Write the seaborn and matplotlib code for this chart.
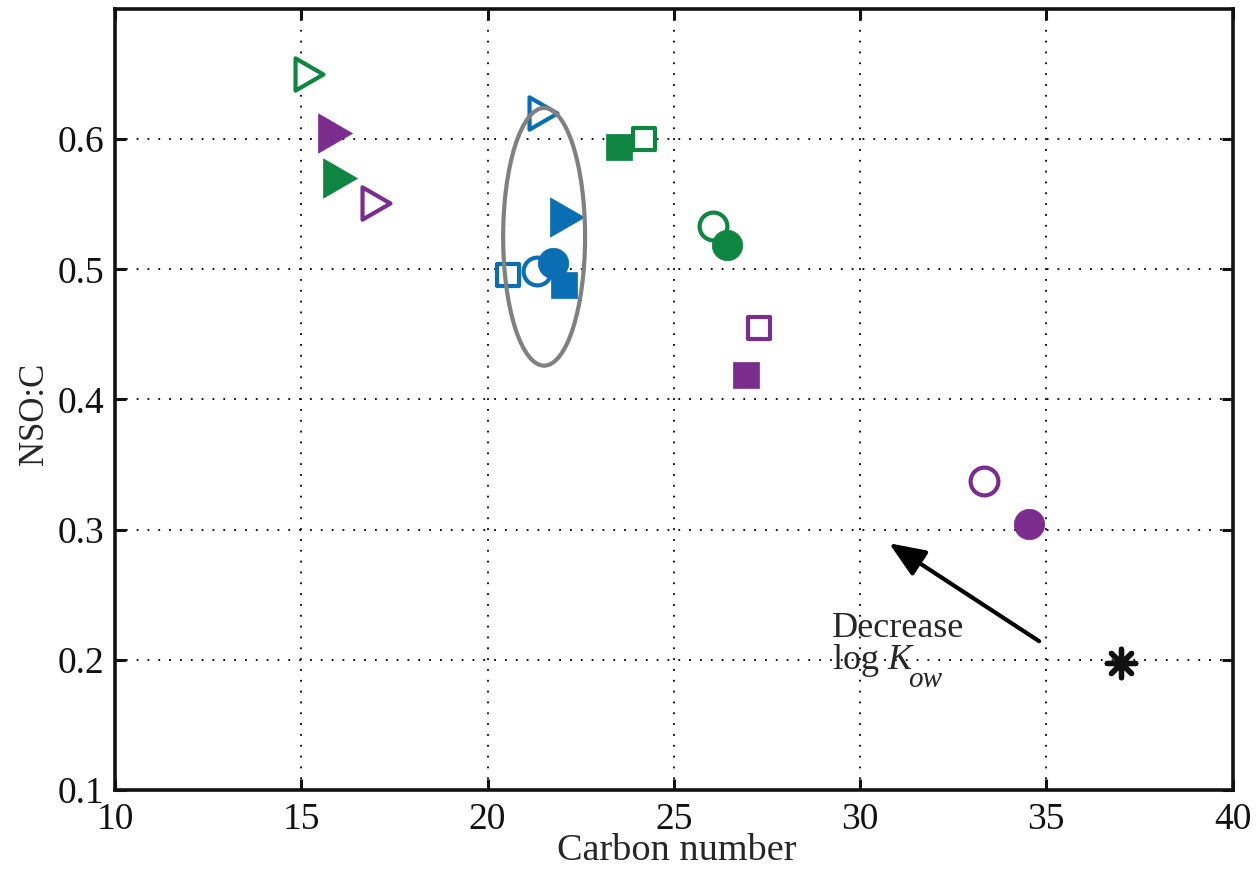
import numpy as np
import pandas as pd
import matplotlib
matplotlib.use("Agg")
import matplotlib.pyplot as plt
from matplotlib.patches import Ellipse
from matplotlib.path import Path
import seaborn as sns

# ---- data ----
carbon = [15.22, 15.91, 16.03, 17.01,
          21.49, 22.13, 21.76, 21.33, 20.56, 22.05,
          23.52, 24.20, 26.05, 26.44,
          27.30, 26.94, 33.32, 34.55,
          37.0]
nsoc = [0.650, 0.605, 0.570, 0.551,
        0.620, 0.540, 0.505, 0.499, 0.496, 0.488,
        0.594, 0.600, 0.533, 0.519,
        0.455, 0.4185, 0.3375, 0.304,
        0.1975]
group = ["green", "purple", "green", "purple",
         "blue", "blue", "blue", "blue", "blue", "blue",
         "green", "green", "green", "green",
         "purple", "purple", "purple", "purple",
         "black"]
shape = ["tri", "tri", "tri", "tri",
         "tri", "tri", "circ", "circ", "sq", "sq",
         "sq", "sq", "circ", "circ",
         "sq", "sq", "circ", "circ",
         "ast"]
filled = [False, True, True, False,
          False, True, True, False, False, True,
          True, False, False, True,
          False, True, False, True,
          True]

ellipse_center = (21.52, 0.525)
ellipse_size = (2.2, 0.198)
arrow_tail = (34.81, 0.2143)
arrow_head = (30.78, 0.2896)
xticks = [10, 15, 20, 25, 30, 35, 40]
yticks = [0.1, 0.2, 0.3, 0.4, 0.5, 0.6]

df = pd.DataFrame({"carbon": carbon, "nsoc": nsoc, "group": group,
                   "shape": shape, "filled": filled})

palette = {"green": "#0E8540", "purple": "#7B2D8E", "blue": "#0A6EB4", "black": "#111111"}
tri = Path([(1, 0), (-1, 1.155), (-1, -1.155), (1, 0)],
           [Path.MOVETO, Path.LINETO, Path.LINETO, Path.CLOSEPOLY])
markers = {"tri": tri, "sq": "s", "circ": "o", "ast": (8, 2, 0)}
size_filled = {"tri": 800, "sq": 350, "circ": 480, "ast": 420}
size_open = {"tri": 540, "sq": 262, "circ": 400, "ast": 420}

sns.set_theme(style="ticks")
plt.rcParams["font.family"] = ["Liberation Serif", "DejaVu Serif"]
plt.rcParams["mathtext.fontset"] = "custom"
plt.rcParams["mathtext.rm"] = "Liberation Serif"
plt.rcParams["mathtext.it"] = "Liberation Serif:italic"

fig = plt.figure(figsize=(12.57, 8.76), dpi=100)
ax = fig.add_axes([115 / 1257, 86 / 876, (1232.5 - 115) / 1257, (790 - 9) / 876])

# open markers first, filled markers drawn on top
order = sorted(df.groupby(["group", "shape", "filled"], sort=False), key=lambda kv: kv[0][2])
for (g, sh, fl), sub in order:
    c = palette[g]
    if sh == "ast":
        sns.scatterplot(data=sub, x="carbon", y="nsoc", ax=ax, marker=markers[sh],
                        s=size_filled[sh], color=c, edgecolor=c, linewidth=3.8,
                        legend=False, zorder=4)
    elif fl:
        sns.scatterplot(data=sub, x="carbon", y="nsoc", ax=ax, marker=markers[sh],
                        s=size_filled[sh], color=c, edgecolor=c, linewidth=0.5,
                        legend=False, zorder=4)
    else:
        sns.scatterplot(data=sub, x="carbon", y="nsoc", ax=ax, marker=markers[sh],
                        s=size_open[sh], facecolor="white", edgecolor=c, linewidth=3.0,
                        legend=False, zorder=4)

ax.add_patch(Ellipse(ellipse_center, ellipse_size[0], ellipse_size[1],
                     facecolor="none", edgecolor="#808080", linewidth=3, zorder=5))

ax.annotate("", xy=arrow_head, xytext=arrow_tail,
            arrowprops=dict(arrowstyle="-|>,head_length=1.1,head_width=0.45",
                            lw=3, color="black", shrinkA=0, shrinkB=0,
                            mutation_scale=20), zorder=6)
ax.text(29.25, 0.2175, "Decrease", fontsize=26, va="baseline", ha="left")
ax.text(29.25, 0.1929, r"log $K$", fontsize=26, va="baseline", ha="left")
ax.text(31.30, 0.179, "ow", fontsize=21, style="italic", va="baseline", ha="left")

ax.set_xlim(10, 40)
ax.set_ylim(0.1, 0.7)
ax.set_xticks(xticks)
ax.set_yticks(yticks)
ax.set_xticklabels([str(t) for t in xticks])
ax.set_yticklabels([f"{t:.1f}" for t in yticks])
ax.grid(True, linestyle=(0, (1, 5)), color="black", linewidth=1.3)
ax.set_axisbelow(True)
ax.tick_params(direction="in", top=True, right=True, length=8, width=2.2,
               labelsize=27, colors="#111111")
ax.tick_params(axis="x", pad=9)
ax.tick_params(axis="y", pad=8)
for sp in ax.spines.values():
    sp.set_linewidth(2.6)
    sp.set_color("#111111")
    sp.set_visible(True)
ax.set_xlabel("Carbon number", fontsize=27.5)
ax.set_ylabel("NSO:C", fontsize=25)
ax.xaxis.set_label_coords(0.503, -0.056)
ax.yaxis.set_label_coords(-0.057, 0.481)

fig.savefig("out.png", dpi=100)
